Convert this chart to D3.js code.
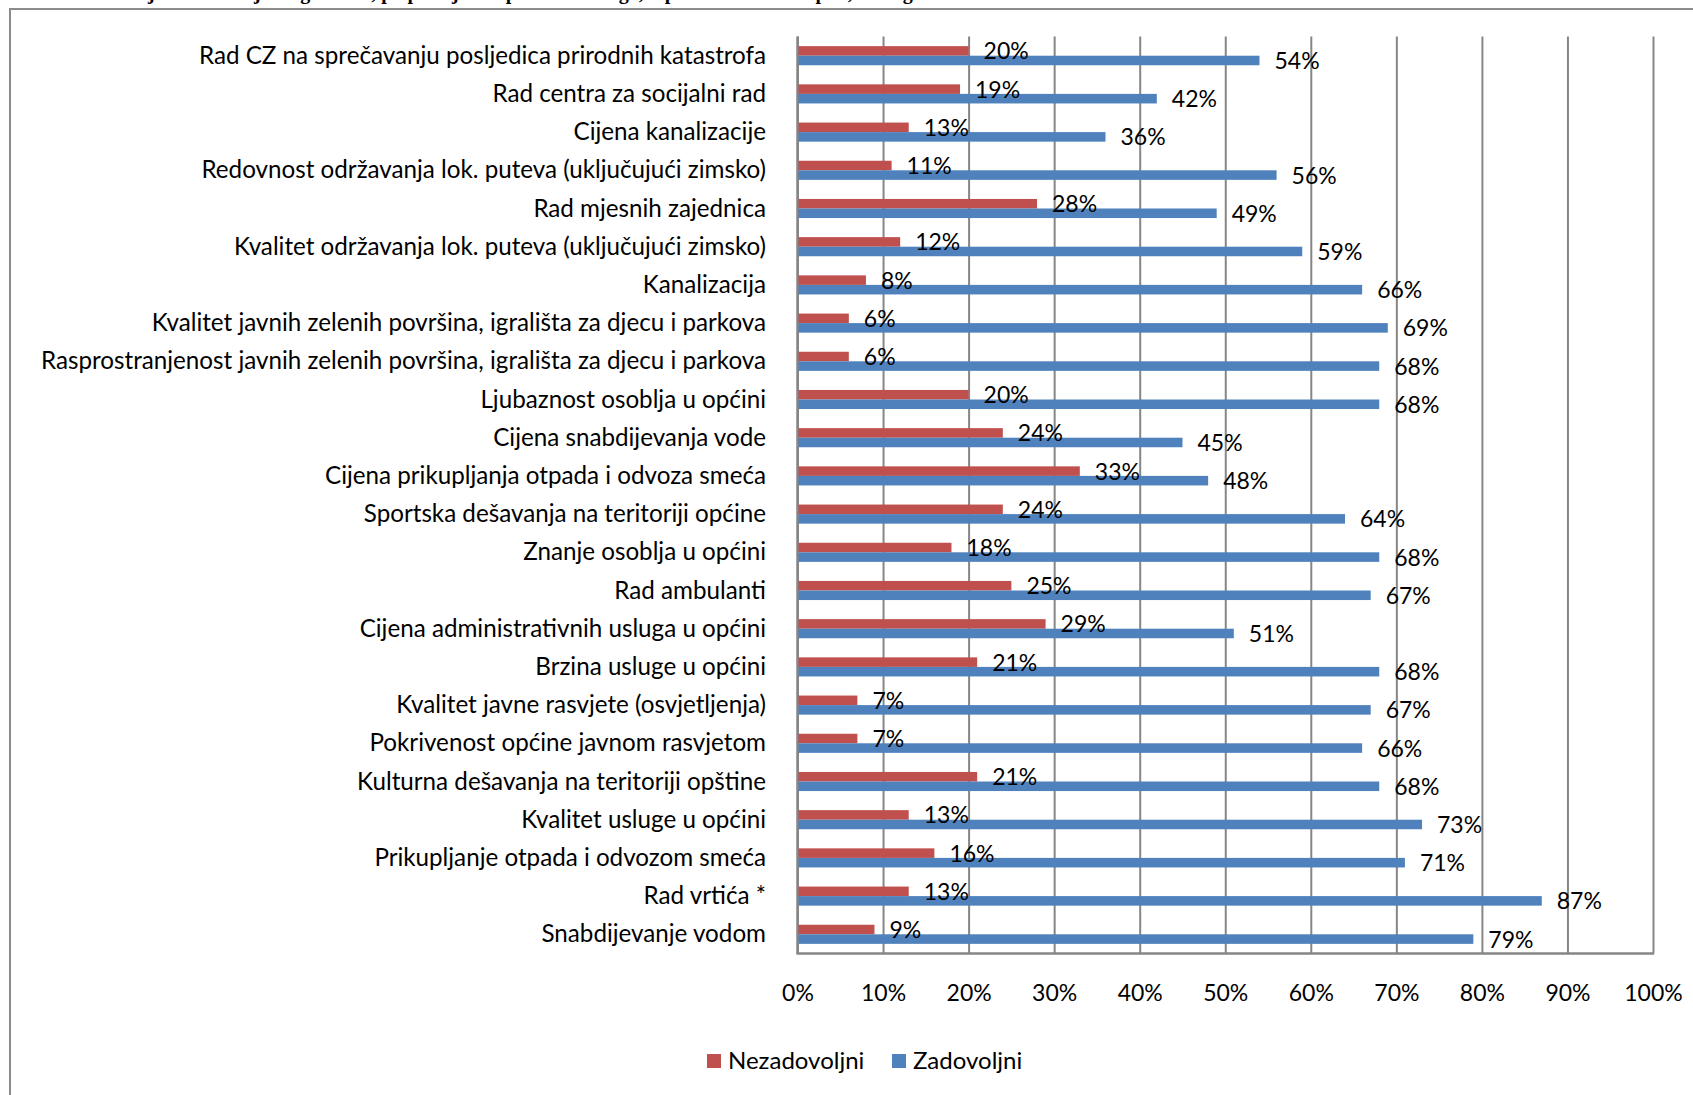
<!DOCTYPE html>
<html>
<head>
<meta charset="utf-8">
<script src="https://cdn.jsdelivr.net/npm/d3@7"></script>
<style>
  html, body { margin: 0; padding: 0; background: #fff; }
  svg { display: block; }
  text { font-family: Lato, "Open Sans", sans-serif; fill: #000; }
</style>
</head>
<body>
<svg id="chart" width="1693" height="1095"></svg>
<script>
const categories = [
  "Rad CZ na sprečavanju posljedica prirodnih katastrofa",
  "Rad centra za socijalni rad",
  "Cijena kanalizacije",
  "Redovnost održavanja lok. puteva (uključujući zimsko)",
  "Rad mjesnih zajednica",
  "Kvalitet održavanja lok. puteva (uključujući zimsko)",
  "Kanalizacija",
  "Kvalitet javnih zelenih površina, igrališta za djecu i parkova",
  "Rasprostranjenost javnih zelenih površina, igrališta za djecu i parkova",
  "Ljubaznost osoblja u općini",
  "Cijena snabdijevanja vode",
  "Cijena prikupljanja otpada i odvoza smeća",
  "Sportska dešavanja na teritoriji općine",
  "Znanje osoblja u općini",
  "Rad ambulanti",
  "Cijena administrativnih usluga u općini",
  "Brzina usluge u općini",
  "Kvalitet javne rasvjete (osvjetljenja)",
  "Pokrivenost općine javnom rasvjetom",
  "Kulturna dešavanja na teritoriji opštine",
  "Kvalitet usluge u općini",
  "Prikupljanje otpada i odvozom smeća",
  "Rad vrtića *",
  "Snabdijevanje vodom"
];
const nezadovoljni = [20,19,13,11,28,12,8,6,6,20,24,33,24,18,25,29,21,7,7,21,13,16,13,9];
const zadovoljni   = [54,42,36,56,49,59,66,69,68,68,45,48,64,68,67,51,68,67,66,68,73,71,87,79];
const seriesNames = ["Nezadovoljni", "Zadovoljni"];
const tickValues = [0,10,20,30,40,50,60,70,80,90,100];
const titleText = "Grafikon 12: Ocjene zadovoljstva građana, po pitanjima općinskih usluga, u procentima – ukupno, svi segmenti";

const colors = { Nezadovoljni: "#C0504D", Zadovoljni: "#4F81BD" };
const gridColor = "#868686";

const svg = d3.select("#chart");

// outer frame
svg.append("rect")
  .attr("x", 10).attr("y", 9).attr("width", 1720).attr("height", 1120)
  .attr("fill", "none").attr("stroke", "#8c8c8c").attr("stroke-width", 2);

// clipped title (only descenders visible, as in the reference)
svg.append("text")
  .attr("x", 8).attr("y", -1)
  .style("font-family", "'Liberation Serif', serif")
  .style("font-weight", "bold")
  .style("font-size", "20px")
  .text(titleText);

const plot = { left: 797.5, right: 1653, top: 36.6, bottom: 953.4 };

const x = d3.scaleLinear().domain([0, 100]).range([plot.left, plot.right]);
const y = d3.scaleBand().domain(categories).range([plot.top, plot.bottom]).paddingInner(0).paddingOuter(0);
const bw = y.bandwidth();
const sub = d3.scaleBand().domain(seriesNames).range([bw * 0.25, bw * 0.75]).padding(0);

// gridlines via axis
const gridAxis = d3.axisBottom(x).tickValues(tickValues).tickSize(-(plot.bottom - plot.top)).tickFormat("");
const gg = svg.append("g").attr("transform", `translate(0,${plot.bottom})`).call(gridAxis);
gg.select(".domain").remove();
gg.selectAll("line").attr("stroke", gridColor).attr("stroke-width", 2);

// left axis line
svg.append("line")
  .attr("x1", x(0)).attr("x2", x(0)).attr("y1", plot.top).attr("y2", plot.bottom)
  .attr("stroke", gridColor).attr("stroke-width", 2.5);
// bottom axis line
svg.append("line")
  .attr("x1", x(0) - 1).attr("x2", x(100) + 1).attr("y1", plot.bottom).attr("y2", plot.bottom)
  .attr("stroke", gridColor).attr("stroke-width", 2.5);

const data = categories.map((c, i) => ({ cat: c, Nezadovoljni: nezadovoljni[i], Zadovoljni: zadovoljni[i] }));

const rows = svg.append("g").selectAll("g").data(data).join("g")
  .attr("transform", d => `translate(0,${y(d.cat)})`);

rows.selectAll("rect").data(d => seriesNames.map(s => ({ s, v: d[s] }))).join("rect")
  .attr("x", x(0) + 1)
  .attr("y", d => sub(d.s))
  .attr("width", d => x(d.v) - x(0) - 1)
  .attr("height", sub.bandwidth())
  .attr("fill", d => colors[d.s]);

const catFont = 24.2;
const valFont = 23;
const tickFont = 23;
const legendFont = 24;

// data labels
rows.selectAll("text.val").data(d => seriesNames.map(s => ({ s, v: d[s] }))).join("text")
  .attr("class", "val")
  .attr("x", d => x(d.v) + 15)
  .attr("y", d => sub(d.s) + sub.bandwidth() / 2 + 8.5)
  .style("font-size", valFont + "px")
  .text(d => d.v + "%");

// category labels
const catG = svg.append("g");
catG.selectAll("text").data(categories).join("text")
  .attr("x", 766)
  .attr("y", d => y(d) + bw / 2 + 8)
  .attr("text-anchor", "end")
  .style("font-size", catFont + "px")
  .text(d => d);

// x tick labels
const tickAxis = d3.axisBottom(x).tickValues(tickValues).tickSize(0).tickPadding(0).tickFormat(d => d + "%");
const tg = svg.append("g").attr("transform", `translate(0,${plot.bottom})`).call(tickAxis);
tg.select(".domain").remove();
tg.selectAll("text")
  .attr("y", 48).attr("dy", null)
  .style("font-family", "Lato, sans-serif")
  .style("font-size", tickFont + "px")
  .attr("fill", "#000");

// legend
const legendItems = [
  { s: "Nezadovoljni", x: 707 },
  { s: "Zadovoljni", x: 892 }
];
const lg = svg.append("g");
legendItems.forEach(it => {
  lg.append("rect").attr("x", it.x).attr("y", 1054).attr("width", 14).attr("height", 14).attr("fill", colors[it.s]);
  lg.append("text").attr("x", it.x + 21).attr("y", 1069).style("font-size", legendFont + "px").text(it.s);
});
</script>
</body>
</html>
